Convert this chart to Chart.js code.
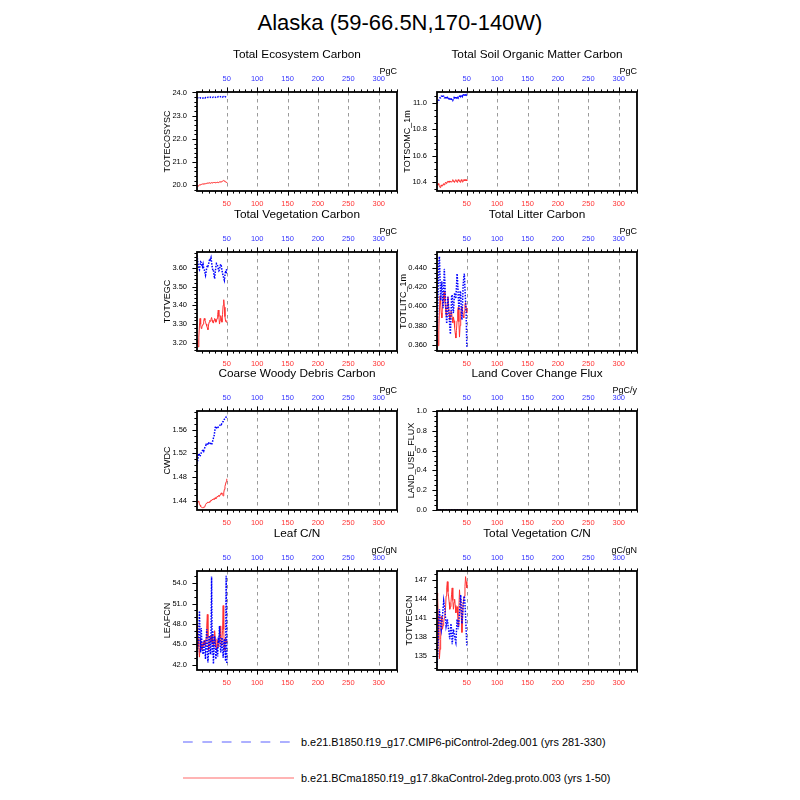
<!DOCTYPE html>
<html>
<head>
<meta charset="utf-8">
<script src="https://cdn.jsdelivr.net/npm/chart.js@4.4.0/dist/chart.umd.min.js"></script>
<style>
  html,body{margin:0;padding:0;background:#fff;}
  body{width:800px;height:800px;position:relative;overflow:hidden;font-family:"Liberation Sans",Arial,sans-serif;}
  canvas{position:absolute;}
  #maintitle{position:absolute;left:0;top:9px;width:800px;text-align:center;font-size:22px;line-height:28px;color:#000;}
  .legtext{position:absolute;left:301px;font-size:10.9px;line-height:14px;color:#000;white-space:nowrap;}
</style>
</head>
<body>
<div id="maintitle">Alaska (59-66.5N,170-140W)</div>
<svg style="position:absolute;left:0;top:0" width="800" height="800">
  <line x1="183" y1="742" x2="291" y2="742" stroke="#adb0ff" stroke-width="2" stroke-dasharray="9.7,9.7"/>
  <line x1="183" y1="778" x2="294" y2="778" stroke="#ffb4b4" stroke-width="2"/>
</svg>
<div class="legtext" style="top:735px">b.e21.B1850.f19_g17.CMIP6-piControl-2deg.001 (yrs 281-330)</div>
<div class="legtext" style="top:771px">b.e21.BCma1850.f19_g17.8kaControl-2deg.proto.003 (yrs 1-50)</div>
<script>
// ---------- data ----------
const YEARS = [1,2,3,4,5,6,7,8,9,10,11,12,13,14,15,16,17,18,19,20,21,22,23,24,25,26,27,28,29,30,31,32,33,34,35,36,37,38,39,40,41,42,43,44,45,46,47,48,49,50];
const X_TICKS = [50,100,150,200,250,300];
const CTRL_NAME = "b.e21.B1850.f19_g17.CMIP6-piControl-2deg.001 (yrs 281-330)";
const EXP_NAME = "b.e21.BCma1850.f19_g17.8kaControl-2deg.proto.003 (yrs 1-50)";

const TOTECOSYSC_CTRL = [23.76,23.77,23.76,23.75,23.76,23.77,23.76,23.75,23.74,23.75,23.76,23.75,23.77,23.76,23.78,23.77,23.76,23.78,23.79,23.78,23.77,23.78,23.80,23.79,23.78,23.77,23.79,23.80,23.79,23.78,23.79,23.80,23.81,23.79,23.80,23.82,23.81,23.80,23.81,23.82,23.83,23.81,23.80,23.82,23.81,23.80,23.82,23.81,23.80,23.79];
const TOTECOSYSC_EXP = [19.97,19.98,19.97,20.00,20.02,20.03,20.02,20.04,20.05,20.06,20.05,20.07,20.06,20.08,20.07,20.09,20.08,20.10,20.09,20.10,20.11,20.10,20.09,20.10,20.12,20.11,20.10,20.12,20.13,20.12,20.11,20.13,20.12,20.14,20.13,20.12,20.14,20.15,20.14,20.16,20.15,20.17,20.18,20.20,20.21,20.19,20.17,20.15,20.14,20.12];
const TOTECOSYSC_TICKS = [20.0,21.0,22.0,23.0,24.0];

const TOTSOMC_CTRL = [11.00,11.01,11.02,11.02,11.03,11.04,11.04,11.05,11.05,11.06,11.05,11.05,11.04,11.04,11.05,11.04,11.03,11.04,11.03,11.03,11.04,11.03,11.03,11.02,11.03,11.03,11.02,11.03,11.04,11.03,11.04,11.04,11.03,11.04,11.05,11.04,11.05,11.05,11.06,11.05,11.06,11.06,11.05,11.06,11.06,11.07,11.06,11.05,11.06,11.05];
const TOTSOMC_EXP = [10.38,10.38,10.39,10.38,10.37,10.36,10.37,10.38,10.37,10.38,10.38,10.39,10.38,10.39,10.40,10.39,10.40,10.40,10.41,10.40,10.41,10.40,10.41,10.41,10.40,10.41,10.42,10.41,10.40,10.41,10.41,10.42,10.41,10.40,10.41,10.42,10.41,10.41,10.40,10.41,10.42,10.41,10.40,10.41,10.42,10.42,10.41,10.42,10.42,10.41];
const TOTSOMC_TICKS = [10.4,10.6,10.8,11.0];

const TOTVEGC_CTRL = [3.667,3.640,3.612,3.595,3.590,3.615,3.632,3.628,3.612,3.605,3.620,3.600,3.590,3.575,3.561,3.580,3.600,3.615,3.610,3.620,3.635,3.650,3.645,3.655,3.630,3.605,3.588,3.590,3.560,3.543,3.575,3.605,3.623,3.620,3.610,3.595,3.585,3.590,3.610,3.620,3.610,3.590,3.570,3.560,3.545,3.534,3.560,3.585,3.570,3.600];
const TOTVEGC_EXP = [3.214,3.190,3.178,3.230,3.290,3.330,3.300,3.276,3.285,3.290,3.300,3.315,3.330,3.320,3.310,3.300,3.290,3.280,3.270,3.295,3.310,3.320,3.315,3.325,3.335,3.320,3.310,3.305,3.320,3.330,3.325,3.310,3.315,3.330,3.350,3.375,3.340,3.300,3.320,3.345,3.330,3.310,3.350,3.400,3.430,3.390,3.340,3.316,3.310,3.320];
const TOTVEGC_TICKS = [3.20,3.30,3.40,3.50,3.60];

const TOTLITC_CTRL = [0.362,0.395,0.420,0.445,0.452,0.430,0.406,0.418,0.426,0.410,0.398,0.420,0.439,0.425,0.404,0.392,0.382,0.395,0.410,0.400,0.388,0.380,0.371,0.390,0.410,0.412,0.398,0.393,0.405,0.414,0.412,0.408,0.420,0.434,0.425,0.410,0.396,0.405,0.416,0.414,0.395,0.386,0.402,0.422,0.430,0.434,0.418,0.405,0.392,0.358];
const TOTLITC_EXP = [0.389,0.372,0.359,0.375,0.395,0.411,0.402,0.393,0.388,0.400,0.408,0.412,0.416,0.405,0.398,0.390,0.396,0.404,0.410,0.400,0.392,0.386,0.390,0.395,0.394,0.388,0.383,0.389,0.385,0.378,0.372,0.367,0.375,0.385,0.395,0.399,0.384,0.368,0.380,0.392,0.398,0.400,0.396,0.390,0.388,0.395,0.402,0.404,0.398,0.393];
const TOTLITC_TICKS = [0.360,0.380,0.400,0.420,0.440];

const CWDC_CTRL = [1.502,1.508,1.514,1.520,1.517,1.515,1.518,1.521,1.523,1.525,1.526,1.524,1.528,1.530,1.532,1.535,1.534,1.536,1.538,1.537,1.539,1.539,1.537,1.535,1.535,1.538,1.542,1.546,1.549,1.556,1.564,1.566,1.564,1.562,1.563,1.565,1.566,1.567,1.568,1.570,1.569,1.571,1.573,1.574,1.577,1.578,1.579,1.580,1.582,1.585];
const CWDC_EXP = [1.434,1.438,1.439,1.438,1.435,1.432,1.430,1.429,1.429,1.428,1.428,1.429,1.429,1.430,1.433,1.435,1.436,1.437,1.436,1.437,1.438,1.437,1.439,1.441,1.440,1.442,1.441,1.443,1.442,1.444,1.445,1.443,1.445,1.447,1.446,1.448,1.449,1.447,1.450,1.452,1.453,1.451,1.449,1.448,1.453,1.459,1.464,1.468,1.472,1.477];
const CWDC_TICKS = [1.44,1.48,1.52,1.56];

const LANDUSE_CTRL = [0,0,0,0,0,0,0,0,0,0,0,0,0,0,0,0,0,0,0,0,0,0,0,0,0,0,0,0,0,0,0,0,0,0,0,0,0,0,0,0,0,0,0,0,0,0,0,0,0,0];
const LANDUSE_EXP = [0,0,0,0,0,0,0,0,0,0,0,0,0,0,0,0,0,0,0,0,0,0,0,0,0,0,0,0,0,0,0,0,0,0,0,0,0,0,0,0,0,0,0,0,0,0,0,0,0,0];
const LANDUSE_TICKS = [0.0,0.2,0.4,0.6,0.8,1.0];

const LEAFCN_CTRL = [42.6,44.5,45.3,46.8,49.9,46.0,43.8,47.4,45.2,44.3,43.5,44.8,45.6,44.0,42.8,45.5,47.2,44.5,42.3,44.0,46.3,45.1,43.5,46.0,55.0,43.5,47.0,42.1,44.5,46.2,45.0,42.8,44.0,44.3,43.2,46.0,45.2,47.7,45.5,43.8,44.5,46.0,45.5,43.0,44.8,45.8,44.5,42.5,55.1,42.1];
const LEAFCN_EXP = [47.9,46.5,45.8,44.6,43.1,44.5,45.8,44.9,44.2,44.6,45.3,44.8,45.6,45.0,44.7,45.9,47.7,49.4,46.0,44.1,44.8,45.5,46.2,45.3,45.9,46.4,45.2,44.6,45.5,47.0,45.8,44.6,44.1,45.0,45.6,44.6,45.5,46.8,47.7,45.9,44.8,45.8,47.0,50.7,47.2,44.1,44.9,45.9,45.2,45.6];
const LEAFCN_TICKS = [42.0,45.0,48.0,51.0,54.0];

const TOTVEGCN_CTRL = [133.4,135.0,137.6,140.8,142.4,141.0,139.9,139.2,140.4,141.3,142.5,143.7,142.9,142.4,141.0,139.7,140.2,140.8,139.9,139.2,138.6,137.6,138.8,140.1,139.0,136.8,138.0,139.2,138.6,138.1,137.5,137.1,138.9,140.8,140.0,139.2,140.5,141.8,143.2,144.7,142.6,140.1,141.5,143.0,144.0,144.5,143.3,141.3,139.0,136.6];
const TOTVEGCN_EXP = [145.0,144.5,141.3,137.5,134.5,136.0,137.6,141.3,140.4,139.2,139.8,140.3,141.0,141.3,142.5,144.5,145.8,146.8,145.2,144.5,143.5,142.4,142.8,143.5,144.8,145.8,143.8,142.4,143.5,144.0,143.0,141.8,142.2,142.8,141.5,139.7,142.5,145.5,144.0,143.5,141.0,138.7,140.5,143.5,144.2,144.5,146.0,147.6,146.8,145.8];
const TOTVEGCN_TICKS = [135,138,141,144,147];

const PANELS = [
  {title:'Total Ecosystem Carbon', unit:'PgC', ytitle:'TOTECOSYSC', ctrl:TOTECOSYSC_CTRL, exp:TOTECOSYSC_EXP, yticks:TOTECOSYSC_TICKS, ymin:19.757, ymax:24.02, dec:1, minor:0.2},
  {title:'Total Soil Organic Matter Carbon', unit:'PgC', ytitle:'TOTSOMC_1m', ctrl:TOTSOMC_CTRL, exp:TOTSOMC_EXP, yticks:TOTSOMC_TICKS, ymin:10.334, ymax:11.083, dec:1, minor:0.05},
  {title:'Total Vegetation Carbon', unit:'PgC', ytitle:'TOTVEGC', ctrl:TOTVEGC_CTRL, exp:TOTVEGC_EXP, yticks:TOTVEGC_TICKS, ymin:3.156, ymax:3.685, dec:2, minor:0.02},
  {title:'Total Litter Carbon', unit:'PgC', ytitle:'TOTLITC_1m', ctrl:TOTLITC_CTRL, exp:TOTLITC_EXP, yticks:TOTLITC_TICKS, ymin:0.3535, ymax:0.4566, dec:3, minor:0.005},
  {title:'Coarse Woody Debris Carbon', unit:'PgC', ytitle:'CWDC', ctrl:CWDC_CTRL, exp:CWDC_EXP, yticks:CWDC_TICKS, ymin:1.424, ymax:1.592, dec:2, minor:0.01},
  {title:'Land Cover Change Flux', unit:'PgC/y', ytitle:'LAND_USE_FLUX', ctrl:LANDUSE_CTRL, exp:LANDUSE_EXP, yticks:LANDUSE_TICKS, ymin:0, ymax:1, dec:1, minor:0.05},
  {title:'Leaf C/N', unit:'gC/gN', ytitle:'LEAFCN', ctrl:LEAFCN_CTRL, exp:LEAFCN_EXP, yticks:LEAFCN_TICKS, ymin:41.2, ymax:55.8, dec:1, minor:1},
  {title:'Total Vegetation C/N', unit:'gC/gN', ytitle:'TOTVEGCN', ctrl:TOTVEGCN_CTRL, exp:TOTVEGCN_EXP, yticks:TOTVEGCN_TICKS, ymin:132.7, ymax:148.5, dec:0, minor:1}
];

// ---------- layout ----------
const FONT = '"Liberation Sans", Arial, Helvetica, sans-serif';
Chart.defaults.font.family = FONT;
const COL_LEFT = [197, 437];
const ROW_TOP = [92, 252, 411, 571];
const PLOT_W = 200, PLOT_H = 99;
const PAD_L = 60, PAD_R = 15, PAD_T = 50, PAD_B = 23;
const TICK_FONT = 7.5;

const nclPlugin = {
  id: 'ncl',
  beforeDatasetsDraw(chart) {
    const ctx = chart.ctx, ca = chart.chartArea, xs = chart.scales.x;
    ctx.save();
    ctx.strokeStyle = '#9a9a9a';
    ctx.lineWidth = 1;
    ctx.setLineDash([3.5, 3.5]);
    X_TICKS.forEach(v => {
      const px = Math.round(xs.getPixelForValue(v)) + 0.5;
      ctx.beginPath(); ctx.moveTo(px, ca.top); ctx.lineTo(px, ca.bottom); ctx.stroke();
    });
    ctx.restore();
  },
  afterDraw(chart, args, o) {
    const ctx = chart.ctx, ca = chart.chartArea, xs = chart.scales.x, ys = chart.scales.y;
    ctx.save();
    ctx.setLineDash([]);
    ctx.strokeStyle = '#000';
    ctx.lineWidth = 1;
    const MAJ = 4.6, MIN = 2.6;
    for (let v = 10; v <= 330; v += 10) {
      const isMaj = (v % 50 === 0);
      const len = isMaj ? MAJ : MIN;
      const px = Math.round(xs.getPixelForValue(v)) + 0.5;
      ctx.beginPath();
      ctx.moveTo(px, ca.bottom); ctx.lineTo(px, ca.bottom + len);
      ctx.moveTo(px, ca.top); ctx.lineTo(px, ca.top - len);
      ctx.stroke();
    }
    const k0 = Math.ceil(ys.min / o.minor - 1e-6), k1 = Math.floor(ys.max / o.minor + 1e-6);
    for (let k = k0; k <= k1; k++) {
      const v = k * o.minor;
      const isMaj = o.yticks.some(t => Math.abs(t - v) < o.minor * 0.01);
      const len = isMaj ? MAJ : MIN;
      const py = Math.round(ys.getPixelForValue(v)) + 0.5;
      ctx.beginPath(); ctx.moveTo(ca.left, py); ctx.lineTo(ca.left - len, py); ctx.stroke();
    }
    ctx.lineWidth = 1.8;
    ctx.strokeRect(ca.left, ca.top, ca.right - ca.left, ca.bottom - ca.top);
    ctx.fillStyle = '#000';
    ctx.textAlign = 'center'; ctx.textBaseline = 'middle';
    ctx.font = '11.8px ' + FONT;
    ctx.fillText(o.title, (ca.left + ca.right) / 2, ca.top - 37);
    ctx.textAlign = 'right';
    ctx.font = '9px ' + FONT;
    ctx.fillText(o.unit, ca.right, ca.top - 20);
    ctx.font = TICK_FONT + 'px ' + FONT;
    let w = 0;
    o.yticks.forEach(t => { w = Math.max(w, ctx.measureText(t.toFixed(o.dec)).width); });
    ctx.font = '9px ' + FONT;
    ctx.translate(ca.left - 10 - w - 5, (ca.top + ca.bottom) / 2);
    ctx.rotate(-Math.PI / 2);
    ctx.textAlign = 'center';
    ctx.fillText(o.ytitle, 0, 0);
    ctx.restore();
  }
};

function points(xs, ys) { return xs.map((x, i) => ({x: x, y: ys[i]})); }

PANELS.forEach((p, i) => {
  const col = i % 2, row = Math.floor(i / 2);
  const cv = document.createElement('canvas');
  const W = PAD_L + PLOT_W + PAD_R, H = PAD_T + PLOT_H + PAD_B;
  cv.width = W; cv.height = H;
  cv.style.left = (COL_LEFT[col] - PAD_L) + 'px';
  cv.style.top = (ROW_TOP[row] - PAD_T) + 'px';
  cv.style.width = W + 'px'; cv.style.height = H + 'px';
  document.body.appendChild(cv);
  const xTickOpts = (color) => ({color: color, font: {size: TICK_FONT, family: FONT}, padding: 8.5, maxRotation: 0, autoSkip: false, callback: v => String(v)});
  new Chart(cv, {
    type: 'line',
    data: {
      datasets: [
        {label: CTRL_NAME, data: points(YEARS, p.ctrl), borderColor: '#0000ff', borderWidth: 1.5, borderDash: [1.5, 1.3], pointRadius: 0, tension: 0, order: 0, xAxisID: 'x', yAxisID: 'y'},
        {label: EXP_NAME, data: points(YEARS, p.exp), borderColor: '#ff3030', borderWidth: 1, pointRadius: 0, tension: 0, order: 1, xAxisID: 'x', yAxisID: 'y'}
      ]
    },
    options: {
      responsive: false, animation: false, devicePixelRatio: 1,
      layout: {padding: {left: 0, right: PAD_R, top: PAD_T - 20, bottom: 0}},
      plugins: {
        legend: {display: false}, tooltip: {enabled: false},
        ncl: {title: p.title, unit: p.unit, ytitle: p.ytitle, yticks: p.yticks, dec: p.dec, minor: p.minor}
      },
      scales: {
        x: {
          type: 'linear', position: 'bottom', min: 1, max: 330,
          grid: {display: false, drawTicks: false}, border: {display: false},
          afterBuildTicks: s => { s.ticks = X_TICKS.map(v => ({value: v})); },
          afterFit: s => { s.height = PAD_B; },
          ticks: xTickOpts('#ff3535')
        },
        x2: {
          type: 'linear', position: 'top', min: 1, max: 330,
          grid: {display: false, drawTicks: false}, border: {display: false},
          afterBuildTicks: s => { s.ticks = X_TICKS.map(v => ({value: v})); },
          afterFit: s => { s.height = 20; },
          ticks: xTickOpts('#3535ff')
        },
        y: {
          type: 'linear', position: 'left', min: p.ymin, max: p.ymax,
          grid: {display: false, drawTicks: false}, border: {display: false},
          afterBuildTicks: s => { s.ticks = p.yticks.map(v => ({value: v})); },
          afterFit: s => { s.width = PAD_L; },
          ticks: {color: '#000', font: {size: TICK_FONT, family: FONT}, padding: 10, autoSkip: false, callback: v => Number(v).toFixed(p.dec)}
        }
      }
    },
    plugins: [nclPlugin]
  });
});
</script>
</body>
</html>
